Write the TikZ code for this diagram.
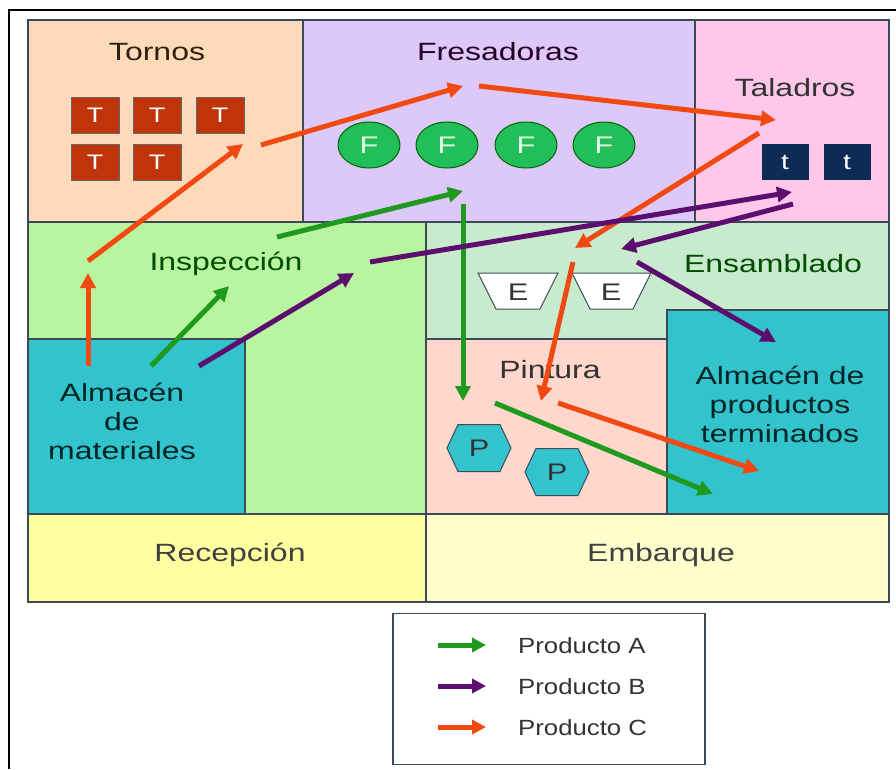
\documentclass[tikz,border=0pt]{standalone}
\usepackage{fontspec}
\setmainfont{Liberation Sans}[FakeStretch=1.28]
\newfontfamily\legfont{Liberation Sans}[FakeStretch=1.17]
\usetikzlibrary{arrows.meta,shapes.geometric}
\definecolor{bordc}{HTML}{3C4A58}
\definecolor{tornc}{HTML}{FDDAB9}
\definecolor{fresc}{HTML}{DDC8FA}
\definecolor{talc}{HTML}{FFC8EB}
\definecolor{inspc}{HTML}{B9F5A0}
\definecolor{ensc}{HTML}{C8EBCD}
\definecolor{almc}{HTML}{32C3CD}
\definecolor{pintc}{HTML}{FFD7CD}
\definecolor{recc}{HTML}{FFFFA0}
\definecolor{embc}{HTML}{FFFFCD}
\definecolor{tfill}{HTML}{C0340C}
\definecolor{ffill}{HTML}{22BE5A}
\definecolor{smallt}{HTML}{0D2B55}
\definecolor{cA}{HTML}{1F9A1F}
\definecolor{cB}{HTML}{5C0E6E}
\definecolor{cC}{HTML}{F04A12}
\definecolor{txtc}{HTML}{333333}
\tikzset{
  zone/.style={draw=bordc, line width=1.3pt},
  lab/.style={font=\fontsize{25}{29}\selectfont, align=center, inner sep=0pt, text=txtc},
  tmach/.style={fill=tfill, draw=black!60, line width=1pt, minimum width=48pt, minimum height=36pt, inner sep=0pt, text=white, font=\fontsize{21}{21}\selectfont},
  fmach/.style={ellipse, fill=ffill, draw=black!60!green, line width=1pt, minimum width=62pt, minimum height=46pt, inner sep=0pt, text=white!90!green, font=\fontsize{24}{24}\selectfont},
  smach/.style={fill=smallt, minimum width=47pt, minimum height=36pt, inner sep=0pt, text=white, font=\fontsize{22}{22}\selectfont},
  shapetxt/.style={inner sep=0pt, text=txtc, font=\fontsize{24}{24}\selectfont},
  arr/.style={line width=5pt, -{Triangle[length=15pt,width=15pt]}},
  legtxt/.style={anchor=west, inner sep=0pt, text=txtc, font=\legfont\fontsize{22}{22}\selectfont},
}
\begin{document}
\begin{tikzpicture}[x=1pt,y=-1pt]
\path[use as bounding box, fill=white] (0,0) rectangle (896,769);
\draw[line width=1.3pt, black] (9,769) -- (9,10) -- (896,10);

% zones
\draw[zone, fill=tornc] (28,20) rectangle (303,222);
\draw[zone, fill=fresc] (303,20) rectangle (695,222);
\draw[zone, fill=talc] (695,20) rectangle (889,222);
\draw[zone, fill=inspc] (28,222) rectangle (426,514);
\draw[zone, fill=almc] (28,339) rectangle (245,514);
\draw[zone, fill=ensc] (426,222) rectangle (889,339);
\draw[zone, fill=pintc] (426,339) rectangle (667,514);
\draw[zone, fill=almc] (667,310) rectangle (889,514);
\draw[zone, fill=recc] (28,514) rectangle (426,602);
\draw[zone, fill=embc] (426,514) rectangle (889,602);

% labels
\node[lab, text=black!75!brown] (ltor) at (157,52) {Tornos};
\node[lab, text=black!70!violet] (lfre) at (498,52) {Fresadoras};
\node[lab] (ltal) at (795,88) {Taladros};
\node[lab, text=black!70!green] (lins) at (226,264) {Inspección};
\node[lab, text=black!70!green] (lens) at (773,264) {Ensamblado};
\node[lab] (lpin) at (550,370) {Pintura};
\node[lab, text=black!70!teal, align=center] (lalm) at (122,421) {Almacén\\[0pt]de\\materiales};
\node[lab, text=black!70!teal, align=center] (lapt) at (780,404) {Almacén de\\productos\\terminados};
\node[lab, text=black!75] (lrec) at (230,555) {Recepción};
\node[lab, text=black!75] (lemb) at (661,555) {Embarque};

% machines
\node[tmach] (t1) at (95,115) {T};
\node[tmach] (t2) at (157,115) {T};
\node[tmach] (t3) at (220,115) {T};
\node[tmach] (t4) at (95,162) {T};
\node[tmach] (t5) at (157,162) {T};
\node[fmach] (f1) at (369,145) {F};
\node[fmach] (f2) at (447,145) {F};
\node[fmach] (f3) at (526,145) {F};
\node[fmach] (f4) at (604,145) {F};
\node[smach] (s1) at (785,162) {t};
\node[smach] (s2) at (847,162) {t};

% E trapezoids
\draw[fill=white, draw=bordc, line width=1pt] (478,273) -- (558,273) -- (540,309) -- (496,309) -- cycle;
\node[shapetxt] (e1) at (518,292) {E};
\draw[fill=white, draw=bordc, line width=1pt] (572,273) -- (651,273) -- (633,309) -- (590,309) -- cycle;
\node[shapetxt] (e2) at (611,292) {E};

% P hexagons
\draw[fill=almc, draw=bordc, line width=1pt] (447,448) -- (458,424.5) -- (500,424.5) -- (511,448) -- (500,471.5) -- (458,471.5) -- cycle;
\node[shapetxt] (p1) at (479,448) {P};
\draw[fill=almc, draw=bordc, line width=1pt] (525,472) -- (536,448.5) -- (578,448.5) -- (589,472) -- (578,495.5) -- (536,495.5) -- cycle;
\node[shapetxt] (p2) at (557,472) {P};

% arrow coordinates
\coordinate (c1s) at (88,366); \coordinate (c1e) at (88,273);
\coordinate (c2s) at (88,261); \coordinate (c2e) at (243,144);
\coordinate (c3s) at (261,145); \coordinate (c3e) at (463,86);
\coordinate (c4s) at (479,86); \coordinate (c4e) at (776,120);
\coordinate (c5s) at (759,133); \coordinate (c5e) at (575,248);
\coordinate (c6s) at (573,262); \coordinate (c6e) at (541,401);
\coordinate (c7s) at (558,403); \coordinate (c7e) at (759,471);
\coordinate (a1s) at (151,366); \coordinate (a1e) at (229,286);
\coordinate (a2s) at (277,237); \coordinate (a2e) at (463,191);
\coordinate (a3s) at (463,204); \coordinate (a3e) at (463,401);
\coordinate (a4s) at (495,403); \coordinate (a4e) at (713,494);
\coordinate (b1s) at (199,366); \coordinate (b1e) at (354,273);
\coordinate (b2s) at (370,262); \coordinate (b2e) at (792,192);
\coordinate (b3s) at (793,204); \coordinate (b3e) at (621,249);
\coordinate (b4s) at (637,262); \coordinate (b4e) at (776,342);

\draw[arr, cC] (c1s) -- (c1e);
\draw[arr, cC] (c2s) -- (c2e);
\draw[arr, cC] (c3s) -- (c3e);
\draw[arr, cC] (c4s) -- (c4e);
\draw[arr, cC] (c5s) -- (c5e);
\draw[arr, cA] (a1s) -- (a1e);
\draw[arr, cA] (a2s) -- (a2e);
\draw[arr, cA] (a3s) -- (a3e);
\draw[arr, cB] (b1s) -- (b1e);
\draw[arr, cB] (b2s) -- (b2e);
\draw[arr, cB] (b3s) -- (b3e);
\draw[arr, cB] (b4s) -- (b4e);
\draw[arr, cC] (c6s) -- (c6e);
\draw[arr, cC] (c7s) -- (c7e);
\draw[arr, cA] (a4s) -- (a4e);

% legend
\node[draw=bordc, line width=1.3pt, fill=white, minimum width=312pt, minimum height=151pt, inner sep=0pt] (leg) at (549,689) {};
\coordinate (la1) at (438,645); \coordinate (la2) at (486,645);
\coordinate (lb1) at (438,686); \coordinate (lb2) at (486,686);
\coordinate (lc1) at (438,727); \coordinate (lc2) at (486,727);
\draw[line width=5pt, cA, -{Triangle[length=14pt,width=14pt]}] (la1) -- (la2);
\draw[line width=5pt, cB, -{Triangle[length=14pt,width=14pt]}] (lb1) -- (lb2);
\draw[line width=5pt, cC, -{Triangle[length=14pt,width=14pt]}] (lc1) -- (lc2);
\node[legtxt] (lta) at (518,646) {Producto A};
\node[legtxt] (ltb) at (518,687) {Producto B};
\node[legtxt] (ltc) at (518,728) {Producto C};
\end{tikzpicture}
\end{document}
